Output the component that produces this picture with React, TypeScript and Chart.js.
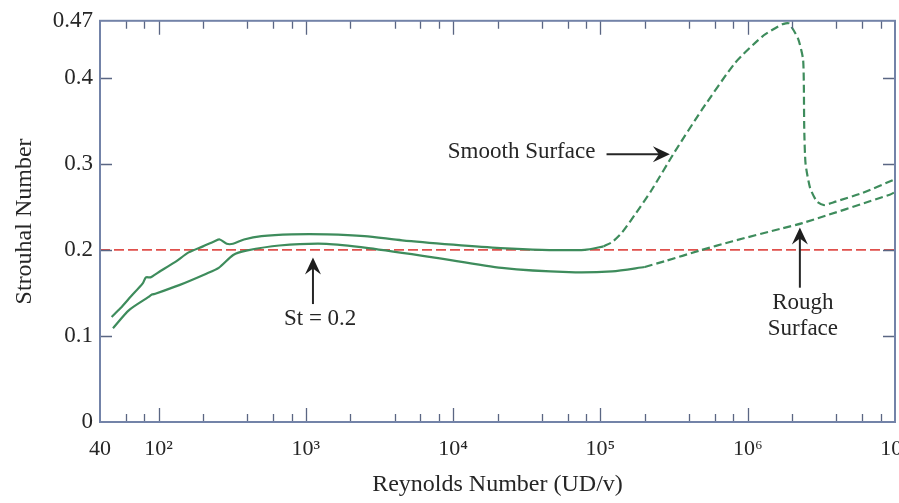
import React, { useEffect, useRef } from "react";
import { Chart, registerables } from "chart.js";

Chart.register(...registerables);

// ---- Tick definitions ----
const xTickValues = [40, 1e2, 1e3, 1e4, 1e5, 1e6, 1e7];
const xTickLabels = ["40", "10²", "10³", "10⁴", "10⁵", "10⁶", "10⁷"];
const yTickValues = [0, 0.1, 0.2, 0.3, 0.4, 0.466];
const yTickLabels = ["0", "0.1", "0.2", "0.3", "0.4", "0.47"];
const xMinorMantissas = [2, 4, 6, 8];

// ---- Series: upper band edge (solid), continuing as smooth-surface (dashed) ----
const upperSolidRe = [48, 55, 65, 78, 82, 88, 100, 130, 160, 200, 240, 260, 290, 320, 380, 500, 800, 1400, 2500, 4500, 10000, 21000, 40000, 78000, 105000];
const upperSolidSt = [0.122, 0.132, 0.146, 0.161, 0.168, 0.168, 0.174, 0.186, 0.197, 0.204, 0.210, 0.212, 0.207, 0.207, 0.212, 0.216, 0.218, 0.218, 0.216, 0.211, 0.206, 0.202, 0.200, 0.200, 0.204];

const smoothRe = [105000, 120000, 140000, 170000, 220000, 320000, 490000, 820000, 1260000, 1720000, 1900000, 2200000, 2380000, 2420000, 2470000, 2650000, 2950000, 3300000, 3950000, 6000000, 10000000];
const smoothSt = [0.204, 0.209, 0.220, 0.240, 0.268, 0.314, 0.363, 0.417, 0.448, 0.462, 0.463, 0.445, 0.420, 0.340, 0.300, 0.272, 0.256, 0.252, 0.256, 0.266, 0.282];

// ---- Series: lower band edge (solid), continuing as rough-surface (dashed) ----
const lowerSolidRe = [49, 63, 85, 90, 95, 138, 209, 256, 321, 394, 660, 1380, 2660, 7480, 21400, 61200, 120000, 200000];
const lowerSolidSt = [0.109, 0.130, 0.145, 0.148, 0.149, 0.159, 0.172, 0.179, 0.194, 0.199, 0.205, 0.207, 0.202, 0.191, 0.179, 0.174, 0.175, 0.180];

const roughRe = [200000, 276000, 470000, 790000, 1720000, 2350000, 9200000, 10000000];
const roughSt = [0.180, 0.187, 0.199, 0.210, 0.225, 0.231, 0.264, 0.267];

// ---- Reference line St = 0.2 ----
const refRe = [40, 1e7];
const refSt = [0.2, 0.2];

// ---- Annotations (data coordinates) ----
const noteTexts = [
  { text: "Smooth Surface", re: 9.2e3, st: 0.314, align: "left" },
  { text: "St = 0.2", re: 1250, st: 0.12, align: "center" },
  { text: "Rough", re: 2.37e6, st: 0.138, align: "center" },
  { text: "Surface", re: 2.37e6, st: 0.108, align: "center" },
];
const noteArrows = [
  { fromRe: 1.1e5, fromSt: 0.311, toRe: 2.96e5, toSt: 0.311 },
  { fromRe: 1117, fromSt: 0.137, toRe: 1117, toSt: 0.191 },
  { fromRe: 2.26e6, fromSt: 0.156, toRe: 2.26e6, toSt: 0.226 },
];

const SERIF = "'Liberation Serif', 'Times New Roman', 'DejaVu Serif', serif";
const GREEN = "#3e8c5c";
const TEXT = "#262626";
const FRAME = "#7383a8";
const TICK = "#5a6683";

const zip = (xs: number[], ys: number[]) => xs.map((x, i) => ({ x, y: ys[i] }));

const decorPlugin = {
  id: "decor",
  beforeDraw(chart: any) {
    const { ctx, width, height } = chart;
    ctx.save();
    ctx.fillStyle = "#ffffff";
    ctx.fillRect(0, 0, width, height);
    ctx.restore();
  },
  afterDatasetsDraw(chart: any) {
    const { ctx, chartArea, scales } = chart;
    const { left, right, top, bottom } = chartArea;
    const xs = scales.x;
    const ys = scales.y;
    ctx.save();
    // inward ticks
    ctx.strokeStyle = TICK;
    ctx.lineWidth = 1.3;
    const vline = (px: number, len: number) => {
      ctx.beginPath();
      ctx.moveTo(px, bottom);
      ctx.lineTo(px, bottom - len);
      ctx.moveTo(px, top);
      ctx.lineTo(px, top + len);
      ctx.stroke();
    };
    xTickValues.forEach((v) => {
      if (v <= xs.min || v >= xs.max) return;
      vline(Math.round(xs.getPixelForValue(v)) + 0.5, 14);
    });
    for (let d = 1; d <= 6; d++) {
      xMinorMantissas.forEach((m) => {
        const v = m * Math.pow(10, d);
        if (v <= xs.min || v >= xs.max) return;
        vline(Math.round(xs.getPixelForValue(v)) + 0.5, 8);
      });
    }
    yTickValues.forEach((v) => {
      if (v <= ys.min || v >= ys.max) return;
      const py = Math.round(ys.getPixelForValue(v)) + 0.5;
      ctx.beginPath();
      ctx.moveTo(left, py);
      ctx.lineTo(left + 12, py);
      ctx.moveTo(right, py);
      ctx.lineTo(right - 12, py);
      ctx.stroke();
    });
    // frame
    ctx.strokeStyle = FRAME;
    ctx.lineWidth = 2;
    ctx.strokeRect(left, top, right - left, bottom - top);

    // annotation text
    ctx.fillStyle = TEXT;
    ctx.font = `23px ${SERIF}`;
    ctx.textBaseline = "middle";
    noteTexts.forEach((n) => {
      ctx.textAlign = n.align as CanvasTextAlign;
      ctx.fillText(n.text, xs.getPixelForValue(n.re), ys.getPixelForValue(n.st));
    });
    // arrows
    ctx.strokeStyle = TEXT;
    ctx.lineWidth = 2;
    noteArrows.forEach((a) => {
      const x0 = xs.getPixelForValue(a.fromRe);
      const y0 = ys.getPixelForValue(a.fromSt);
      const x1 = xs.getPixelForValue(a.toRe);
      const y1 = ys.getPixelForValue(a.toSt);
      const ang = Math.atan2(y1 - y0, x1 - x0);
      const L = 17;
      const W = 8;
      const N = 6;
      const cos = Math.cos(ang);
      const sin = Math.sin(ang);
      ctx.beginPath();
      ctx.moveTo(x0, y0);
      ctx.lineTo(x1 - cos * N, y1 - sin * N);
      ctx.stroke();
      const bx = x1 - cos * L;
      const by = y1 - sin * L;
      ctx.beginPath();
      ctx.moveTo(x1, y1);
      ctx.lineTo(bx - sin * W, by + cos * W);
      ctx.lineTo(x1 - cos * (L - N), y1 - sin * (L - N));
      ctx.lineTo(bx + sin * W, by - cos * W);
      ctx.closePath();
      ctx.fillStyle = "#1e1e1e";
      ctx.fill();
    });
    ctx.restore();
  },
};

export default function App() {
  const canvasRef = useRef<HTMLCanvasElement | null>(null);

  useEffect(() => {
    document.body.style.margin = "0";
    const canvas = canvasRef.current;
    if (!canvas) return;
    const lineBase = {
      showLine: true,
      pointRadius: 0,
      pointHoverRadius: 0,
      fill: false,
      tension: 0.25,
    };
    const chart = new Chart(canvas, {
      type: "scatter",
      data: {
        datasets: [
          { ...lineBase, label: "upper", data: zip(upperSolidRe, upperSolidSt), borderColor: GREEN, borderWidth: 2.2 },
          { ...lineBase, label: "smooth", data: zip(smoothRe, smoothSt), borderColor: GREEN, borderWidth: 2.2, borderDash: [8, 4], tension: 0.2 },
          { ...lineBase, label: "lower", data: zip(lowerSolidRe, lowerSolidSt), borderColor: GREEN, borderWidth: 2.2 },
          { ...lineBase, label: "rough", data: zip(roughRe, roughSt), borderColor: GREEN, borderWidth: 2.2, borderDash: [8, 4] },
          { ...lineBase, label: "St = 0.2", data: zip(refRe, refSt), borderColor: "#e0504c", borderWidth: 1.8, borderDash: [10, 4], tension: 0 },
        ],
      },
      options: {
        animation: false,
        responsive: false,
        devicePixelRatio: 1,
        layout: { padding: { top: 18, right: 4, left: 0, bottom: 0 } },
        plugins: { legend: { display: false }, tooltip: { enabled: false } },
        scales: {
          x: {
            type: "logarithmic",
            min: 40,
            max: 1e7,
            bounds: "data",
            grid: { display: false, drawTicks: false },
            border: { display: false },
            afterBuildTicks: (s: any) => {
              s.ticks = xTickValues.map((v) => ({ value: v, major: true }));
            },
            afterFit: (s: any) => {
              s.height = 81;
              s.paddingLeft = 0;
              s.paddingRight = 0;
            },
            ticks: {
              autoSkip: false,
              maxRotation: 0,
              padding: 14,
              color: TEXT,
              font: { family: SERIF, size: 22 },
              callback: (v: any) => {
                const i = xTickValues.indexOf(Number(v));
                return i >= 0 ? xTickLabels[i] : "";
              },
            },
            title: {
              display: true,
              text: "Reynolds Number (UD/v)",
              color: TEXT,
              font: { family: SERIF, size: 24 },
              padding: { top: 0, bottom: 4 },
            },
          },
          y: {
            type: "linear",
            min: 0,
            max: 0.466,
            bounds: "data",
            grid: { display: false, drawTicks: false },
            border: { display: false },
            afterBuildTicks: (s: any) => {
              s.ticks = yTickValues.map((v) => ({ value: v }));
            },
            afterFit: (s: any) => {
              s.width = 100;
            },
            ticks: {
              autoSkip: false,
              padding: 7,
              color: TEXT,
              font: { family: SERIF, size: 23 },
              callback: (v: any) => {
                const i = yTickValues.indexOf(Number(v));
                return i >= 0 ? yTickLabels[i] : "";
              },
            },
            title: {
              display: true,
              text: "Strouhal Number",
              color: TEXT,
              font: { family: SERIF, size: 24 },
              padding: { top: 10, bottom: 0 },
            },
          },
        },
      },
      plugins: [decorPlugin],
    } as any);
    return () => chart.destroy();
  }, []);

  return (
    <div style={{ position: "absolute", left: 0, top: 0, width: 899, height: 503 }}>
      <canvas ref={canvasRef} width={899} height={503} style={{ width: 899, height: 503, display: "block" }} />
    </div>
  );
}
